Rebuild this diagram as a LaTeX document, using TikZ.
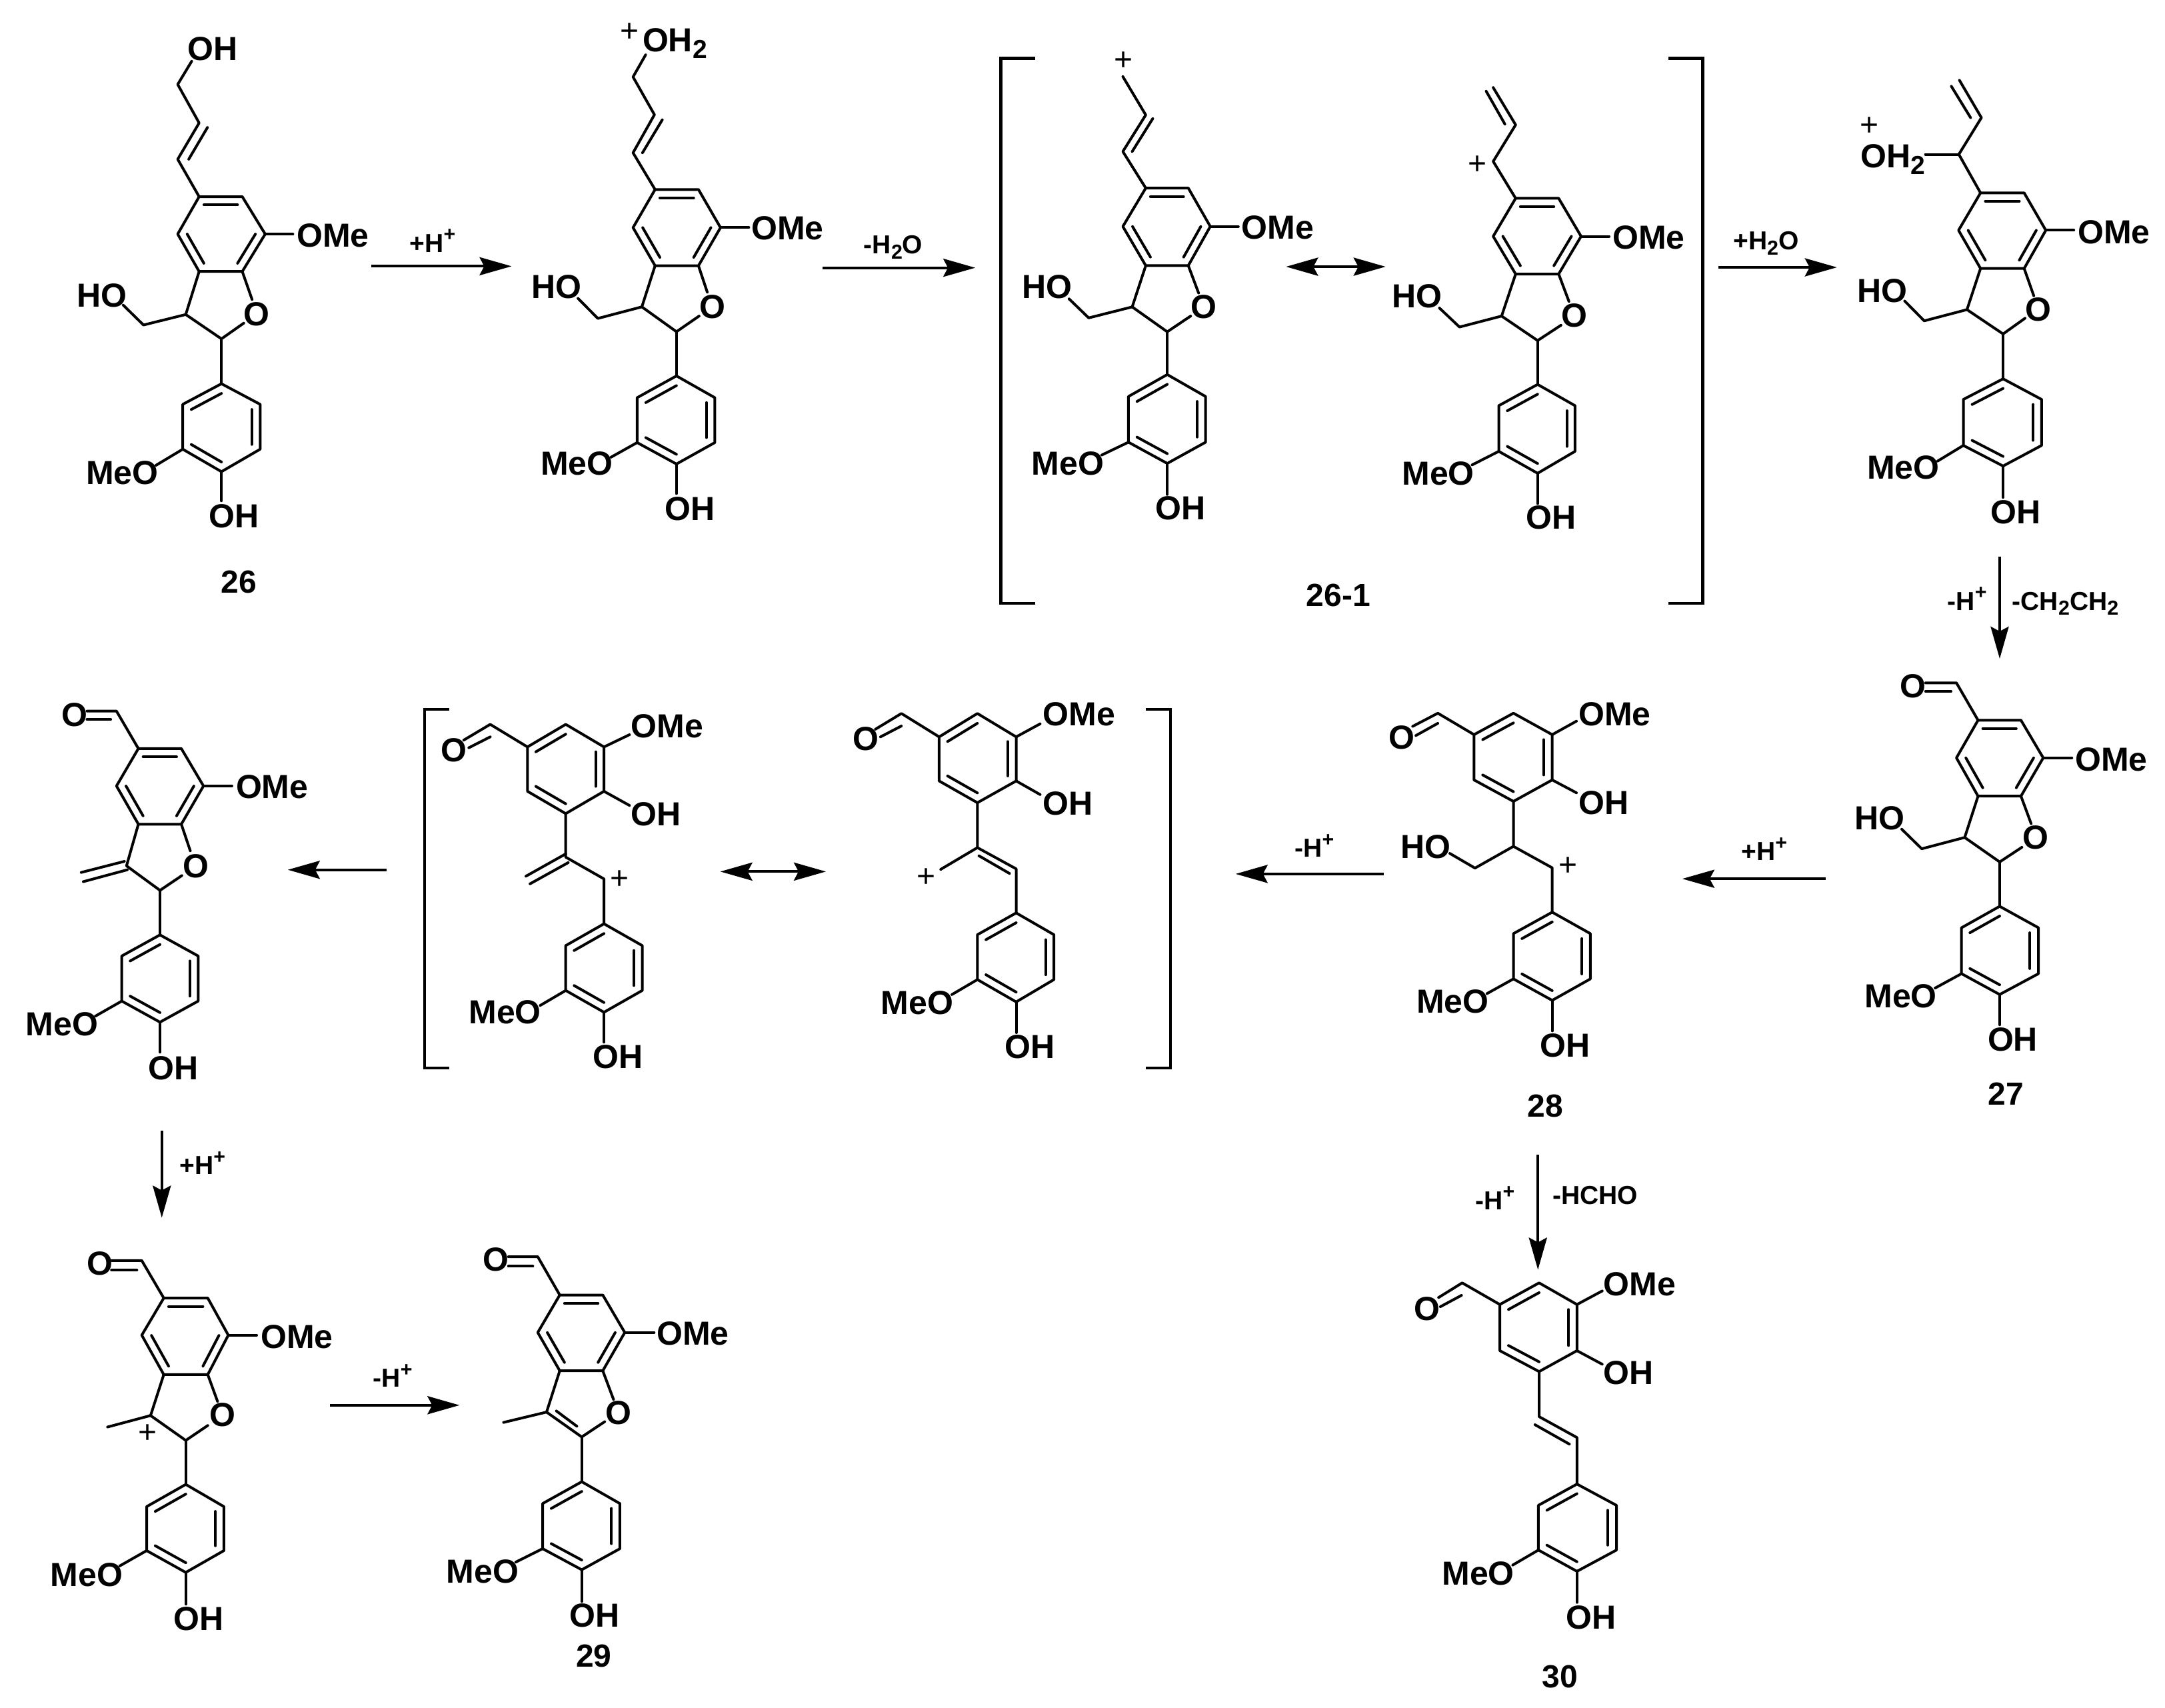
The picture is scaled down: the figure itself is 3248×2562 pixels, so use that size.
\documentclass[tikz,border=0pt]{standalone}
\usepackage{fontspec}
\setmainfont{Liberation Sans}
\usetikzlibrary{calc,arrows.meta}
\newcounter{lb}
\newcounter{rx}
\tikzset{
  bond/.style={line width=4pt,line cap=round,line join=round},
  brk/.style={line width=4.2pt,line join=miter},
  rarrow/.style={line width=4.2pt,-{Stealth[length=48pt,width=27pt,inset=7pt]}},
  darrow/.style={line width=4.2pt,{Stealth[length=48pt,width=27pt,inset=7pt]}-{Stealth[length=48pt,width=27pt,inset=7pt]}},
  atomlbl/.style={anchor=base west,inner sep=0pt,font=\fontsize{50}{52}\selectfont\bfseries},
  rlbl/.style={anchor=base west,inner sep=0pt,font=\fontsize{39}{42}\selectfont\bfseries},
  cmpd/.style={anchor=base west,inner sep=0pt,font=\fontsize{48}{50}\selectfont\bfseries},
  pluslbl/.style={anchor=center,inner sep=0pt,font=\fontsize{48}{50}\selectfont}
}
\newenvironment{zf}[4]{\pgfmathsetmacro\zx{#3/1568}\pgfmathsetmacro\zy{#4/1568}\begin{scope}[shift={(#1pt,-#2pt)},x=\zx pt,y=-\zy pt]}{\end{scope}}
\newcommand\sbs[1]{\raisebox{-0.2em}{\scalebox{.78}{#1}}}
\newcommand\sps[1]{\raisebox{.42em}{\scalebox{.78}{#1}}}
\newcommand\lab[3][atomlbl]{\stepcounter{lb}\node[#1] (n\arabic{lb}) at (#2) {#3};}
\newcommand\plusat[1]{\stepcounter{lb}\node[pluslbl] (n\arabic{lb}) at (#1) {+};}
\newcommand\bnd[1]{\draw[bond] #1;}
\newcommand\rxn[3][rarrow]{\stepcounter{rx}\coordinate (ra\arabic{rx}) at (#2);\coordinate (rb\arabic{rx}) at (#3);\draw[#1] (ra\arabic{rx}) -- (rb\arabic{rx});}
\newcommand\arom[6]{%
  \draw[bond] (#1)--(#2)--(#3)--(#4)--(#5)--(#6)--cycle;
  \coordinate (rc) at ($(#1)!.5!(#4)$);
  \draw[bond] ($(#1)!.22!(rc)$)--($(#2)!.22!(rc)$);
  \draw[bond] ($(#3)!.22!(rc)$)--($(#4)!.22!(rc)$);
  \draw[bond] ($(#5)!.22!(rc)$)--($(#6)!.22!(rc)$);}
\begin{document}
\begin{tikzpicture}
\path[use as bounding box,fill=white] (0pt,0pt) rectangle (3248pt,-2562pt);

% --- 26
\begin{zf}{80}{20}{700}{880}
\arom{490,490}{635,490}{712,590}{635,690}{490,690}{418,590}
\bnd{(490,490)--(418,390)--(490,293)--(418,190)--(465,128)}
\bnd{(455,390)--(518,305)}
\bnd{(712,590)--(805,590)}
\bnd{(490,690)--(445,805)--(565,870)--(640,828)}
\bnd{(635,690)--(668,765)}
\bnd{(445,805)--(303,833)--(235,780)}
\bnd{(565,870)--(565,990)}
\arom{565,990}{435,1045}{435,1165}{565,1225}{695,1165}{695,1045}
\bnd{(435,1165)--(345,1208)}
\bnd{(565,1225)--(565,1303)}
\lab{452,125}{OH}
\lab{818,625}{OMe}
\lab{640,835}{O}
\lab{78,785}{HO}
\lab{110,1258}{MeO}
\lab{522,1375}{OH}
\lab[cmpd]{563,1550}{26}
\rxn{1068,676}{1540,676}
\lab[rlbl]{1197,638}{+H\sps{+}}
\end{zf}

% --- protonated 26
\begin{zf}{760}{20}{740}{800}
\arom{472,518}{610,518}{680,630}{610,742}{472,742}{402,630}
\bnd{(472,518)--(402,410)--(470,298)--(402,187)--(442,122)}
\bnd{(432,410)--(495,313)}
\bnd{(680,630)--(770,630)}
\bnd{(472,742)--(430,863)--(540,936)--(612,890)}
\bnd{(610,742)--(638,820)}
\bnd{(430,863)--(290,897)--(227,838)}
\bnd{(540,936)--(540,1066)}
\arom{540,1066}{415,1130}{415,1262}{540,1325}{662,1262}{662,1130}
\bnd{(415,1262)--(332,1305)}
\bnd{(540,1325)--(540,1412)}
\plusat{390,57}
\lab{432,112}{OH\sbs{2}}
\lab{778,665}{OMe}
\lab{612,897}{O}
\lab{78,838}{HO}
\lab{108,1358}{MeO}
\lab{502,1490}{OH}
\rxn{1005,748}{1490,748}
\lab[rlbl]{1135,706}{-H\sbs{2}O}
\end{zf}

% --- 26-1
\begin{zf}{1500}{60}{1100}{860}
\draw[brk] (75,50)--(2,50)--(2,1540)--(75,1540);
\draw[brk] (1430,50)--(1503,50)--(1503,1540)--(1430,1540);
\arom{312,405}{403,405}{450,510}{403,617}{312,617}{263,510}
\bnd{(312,405)--(263,305)--(312,205)--(263,100)}
\bnd{(283,305)--(327,215)}
\bnd{(450,510)--(510,510)}
\bnd{(312,617)--(283,730)--(358,798)--(408,755)}
\bnd{(403,617)--(425,692)}
\bnd{(283,730)--(190,760)--(148,708)}
\bnd{(358,798)--(358,915)}
\arom{358,915}{275,975}{275,1100}{358,1158}{440,1100}{440,975}
\bnd{(275,1100)--(218,1135)}
\bnd{(358,1158)--(358,1243)}
\plusat{264,57}
\lab{517,545}{OMe}
\lab{408,762}{O}
\lab{47,707}{HO}
\lab{68,1190}{MeO}
\lab{332,1312}{OH}
\rxn[darrow]{612,620}{825,620}
\arom{1103,433}{1195,433}{1243,537}{1195,640}{1103,640}{1055,537}
\bnd{(1103,433)--(1055,332)--(1103,232)--(1055,130)}
\bnd{(1080,230)--(1040,140)}
\bnd{(1243,537)--(1303,537)}
\bnd{(1103,640)--(1073,755)--(1150,822)--(1200,780)}
\bnd{(1195,640)--(1217,715)}
\bnd{(1073,755)--(983,785)--(940,733)}
\bnd{(1150,822)--(1150,942)}
\arom{1150,942}{1067,1000}{1067,1125}{1150,1185}{1230,1125}{1230,1000}
\bnd{(1067,1125)--(1010,1162)}
\bnd{(1150,1185)--(1150,1268)}
\plusat{1022,343}
\lab{1310,572}{OMe}
\lab{1200,785}{O}
\lab{838,732}{HO}
\lab{860,1217}{MeO}
\lab{1125,1338}{OH}
\lab[cmpd]{655,1548}{26-1}
\end{zf}

% --- water adduct
\begin{zf}{2540}{80}{708}{880}
\rxn{85,572}{478,572}
\lab[rlbl]{133,525}{+H\sbs{2}O}
\arom{955,373}{1100,373}{1172,473}{1100,575}{955,575}{882,473}
\bnd{(955,373)--(883,270)--(958,172)--(885,72)}
\bnd{(922,172)--(858,88)}
\bnd{(883,270)--(772,270)}
\bnd{(1172,473)--(1265,473)}
\bnd{(955,575)--(910,685)--(1030,750)--(1103,708)}
\bnd{(1100,575)--(1132,648)}
\bnd{(910,685)--(768,715)--(703,662)}
\bnd{(1030,750)--(1030,870)}
\arom{1030,870}{898,925}{898,1048}{1030,1103}{1158,1048}{1158,925}
\bnd{(898,1048)--(812,1090)}
\bnd{(1030,1103)--(1030,1187)}
\plusat{585,195}
\lab{557,305}{OH\sbs{2}}
\lab{1278,508}{OMe}
\lab{1103,716}{O}
\lab{545,665}{HO}
\lab{578,1138}{MeO}
\lab{988,1257}{OH}
\lab[rlbl]{845,1488}{-H\sps{+}}
\lab[rlbl]{1060,1488}{-CH\sbs{2}CH\sbs{2}}
\end{zf}
\coordinate (va) at (3000pt,-835pt);
\coordinate (vb) at (3000pt,-988pt);
\draw[rarrow] (va) -- (vb);

% --- 27
\begin{zf}{2500}{960}{748}{720}
\arom{980,262}{1115,262}{1185,385}{1115,510}{980,510}{912,385}
\bnd{(980,262)--(912,140)--(815,140)}
\bnd{(895,168)--(815,168)}
\bnd{(1185,385)--(1275,385)}
\bnd{(980,510)--(938,645)--(1048,725)--(1118,677)}
\bnd{(1115,510)--(1147,600)}
\bnd{(938,645)--(803,682)--(740,618)}
\bnd{(1048,725)--(1048,870)}
\arom{1048,870}{928,940}{928,1090}{1048,1158}{1170,1090}{1170,940}
\bnd{(928,1090)--(845,1137)}
\bnd{(1048,1158)--(1048,1257)}
\lab{735,188}{O}
\lab{1285,428}{OMe}
\lab{1120,683}{O}
\lab{592,620}{HO}
\lab{623,1200}{MeO}
\lab{1010,1343}{OH}
\lab[cmpd]{1012,1520}{27}
\rxn{500,780}{50,780}
\lab[rlbl]{235,720}{+H\sps{+}}
\end{zf}

% --- 28
\begin{zf}{1780}{1000}{760}{720}
\arom{1012,152}{890,222}{890,370}{1012,440}{1132,370}{1132,222}
\bnd{(890,222)--(778,152)--(700,195)}
\bnd{(778,185)--(710,225)}
\bnd{(1132,222)--(1207,178)}
\bnd{(1132,370)--(1207,412)}
\bnd{(1012,440)--(1012,587)--(1132,657)--(1132,802)}
\bnd{(1012,587)--(893,658)--(815,610)}
\arom{1132,802}{1012,872}{1012,1020}{1132,1090}{1250,1020}{1250,872}
\bnd{(1012,1020)--(930,1068)}
\bnd{(1132,1090)--(1132,1190)}
\lab{625,270}{O}
\lab{1213,192}{OMe}
\lab{1213,482}{OH}
\lab{663,627}{HO}
\plusat{1181,652}
\lab{712,1132}{MeO}
\lab{1095,1275}{OH}
\lab[cmpd]{1055,1470}{28}
\rxn{610,677}{152,677}
\lab[rlbl]{335,622}{-H\sps{+}}
\end{zf}

% --- bracketed pair, second row
\begin{zf}{600}{1000}{1200}{640}
\draw[brk] (97,157)--(48,157)--(48,1475)--(97,1475);
\draw[brk] (1462,157)--(1510,157)--(1510,1475)--(1462,1475);
\arom{325,212}{250,295}{250,458}{325,540}{400,458}{400,295}
\bnd{(250,295)--(177,212)--(125,270)}
\bnd{(177,258)--(135,298)}
\bnd{(400,295)--(450,250)}
\bnd{(400,458)--(450,510)}
\bnd{(325,540)--(325,700)--(400,780)--(400,945)}
\bnd{(325,688)--(247,770)}
\bnd{(330,720)--(255,798)}
\arom{400,945}{325,1025}{325,1190}{400,1270}{475,1190}{475,1025}
\bnd{(325,1190)--(275,1245)}
\bnd{(400,1270)--(400,1380)}
\lab{80,348}{O}
\lab{453,262}{OMe}
\lab{453,585}{OH}
\plusat{430,782}
\lab{135,1313}{MeO}
\lab{378,1475}{OH}
\rxn[darrow]{628,753}{835,753}
\arom{1132,172}{1057,258}{1057,420}{1132,500}{1208,420}{1208,258}
\bnd{(1057,258)--(983,172)--(932,230)}
\bnd{(983,218)--(942,258)}
\bnd{(1208,258)--(1255,210)}
\bnd{(1208,420)--(1255,470)}
\bnd{(1132,500)--(1132,665)--(1208,743)--(1208,905)}
\bnd{(1132,665)--(1060,745)}
\bnd{(1135,695)--(1195,760)}
\arom{1208,905}{1132,985}{1132,1150}{1208,1232}{1282,1150}{1282,985}
\bnd{(1132,1150)--(1082,1205)}
\bnd{(1208,1232)--(1208,1345)}
\lab{888,308}{O}
\lab{1260,218}{OMe}
\lab{1260,545}{OH}
\plusat{1032,775}
\lab{943,1278}{MeO}
\lab{1185,1440}{OH}
\end{zf}

% --- methylene compound
\begin{zf}{0}{1020}{620}{620}
\arom{525,260}{688,260}{772,402}{688,547}{525,547}{442,402}
\bnd{(525,260)--(442,118)--(330,118)}
\bnd{(420,150)--(330,150)}
\bnd{(772,402)--(880,402)}
\bnd{(525,547)--(480,705)--(607,798)--(690,742)}
\bnd{(688,547)--(722,648)}
\bnd{(472,688)--(308,730)}
\bnd{(483,720)--(316,765)}
\bnd{(607,798)--(607,967)}
\arom{607,967}{462,1047}{462,1218}{607,1298}{752,1218}{752,1047}
\bnd{(462,1218)--(362,1275)}
\bnd{(607,1298)--(607,1412)}
\lab{233,175}{O}
\lab{895,450}{OMe}
\lab{693,750}{O}
\lab{97,1350}{MeO}
\lab{562,1515}{OH}
\rxn{1467,720}{1092,720}
\end{zf}

% --- cation and 29
\begin{zf}{0}{1640}{1150}{900}
\rxn{331,97}{331,325}
\lab[rlbl]{367,212}{+H\sps{+}}
\arom{335,535}{425,535}{467,632}{425,735}{335,735}{290,632}
\bnd{(335,535)--(290,437)--(228,437)}
\bnd{(280,462)--(228,462)}
\bnd{(467,632)--(525,632)}
\bnd{(335,735)--(308,842)--(380,907)--(425,868)}
\bnd{(425,735)--(445,805)}
\bnd{(308,842)--(220,872)}
\bnd{(380,907)--(380,1022)}
\arom{380,1022}{300,1080}{300,1195}{380,1252}{458,1195}{458,1080}
\bnd{(300,1195)--(245,1235)}
\bnd{(380,1252)--(380,1335)}
\lab{177,475}{O}
\lab{533,667}{OMe}
\lab{428,870}{O}
\plusat{302,890}
\lab{103,1288}{MeO}
\lab{355,1403}{OH}
\rxn{675,815}{940,815}
\lab[rlbl]{763,768}{-H\sps{+}}
\arom{1145,527}{1233,527}{1278,625}{1233,725}{1145,725}{1100,625}
\bnd{(1145,527)--(1100,427)--(1040,427)}
\bnd{(1090,452)--(1040,452)}
\bnd{(1278,625)--(1338,625)}
\bnd{(1145,725)--(1118,833)--(1190,898)--(1237,858)}
\bnd{(1233,725)--(1255,800)}
\bnd{(1138,830)--(1180,870)}
\bnd{(1118,833)--(1030,860)}
\bnd{(1190,898)--(1190,1015)}
\arom{1190,1015}{1110,1072}{1110,1190}{1190,1245}{1268,1190}{1268,1072}
\bnd{(1110,1190)--(1055,1225)}
\bnd{(1190,1245)--(1190,1328)}
\lab{988,465}{O}
\lab{1343,657}{OMe}
\lab{1238,865}{O}
\lab{913,1280}{MeO}
\lab{1165,1395}{OH}
\lab[cmpd]{1178,1500}{29}
\end{zf}

% --- 30
\begin{zf}{2060}{1700}{540}{862}
\rxn{718,58}{718,372}
\lab[rlbl]{445,208}{-H\sps{+}}
\lab[rlbl]{782,193}{-HCHO}
\arom{723,408}{552,467}{552,593}{723,650}{888,593}{888,467}
\bnd{(552,467)--(388,408)--(285,448)}
\bnd{(385,442)--(293,473)}
\bnd{(888,467)--(998,430)}
\bnd{(888,593)--(998,630)}
\bnd{(723,650)--(723,773)--(888,830)--(888,957)}
\bnd{(705,795)--(855,848)}
\arom{888,957}{720,1015}{720,1137}{888,1195}{1060,1137}{1060,1015}
\bnd{(720,1137)--(608,1178)}
\bnd{(888,1195)--(888,1280)}
\lab{177,510}{O}
\lab{1003,443}{OMe}
\lab{1003,685}{OH}
\lab{300,1233}{MeO}
\lab{840,1353}{OH}
\lab[cmpd]{735,1512}{30}
\end{zf}
\end{tikzpicture}
\end{document}
